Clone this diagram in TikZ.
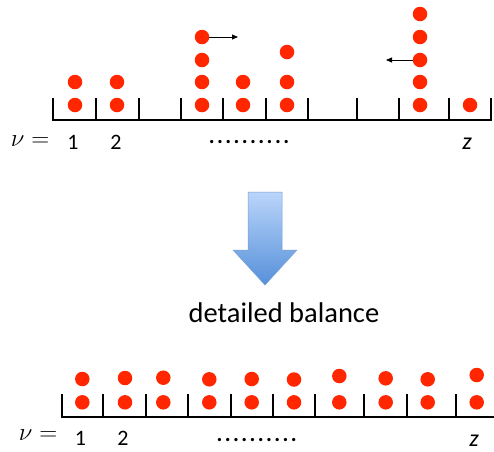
\documentclass[tikz,border=0pt]{standalone}
\usepackage{fontspec}
\setmainfont{Carlito}
\usetikzlibrary{arrows.meta}
\definecolor{dotred}{RGB}{255,38,0}
\definecolor{arrtop}{RGB}{186,213,250}
\definecolor{arrbot}{RGB}{86,144,218}
\definecolor{arredge}{RGB}{120,160,210}
\newcommand{\dotrow}{\bfseries.\kern2.4pt.\kern2.4pt.\kern2.4pt.\kern2.4pt.\kern2.4pt.\kern2.4pt.\kern2.4pt.\kern2.4pt.\kern2.4pt.}
\begin{document}
\begin{tikzpicture}[x=1pt,y=-1pt,
  ball/.style={circle,fill=dotred,inner sep=0pt,minimum size=14.5pt},
  bar/.style={line width=1.8pt},
  lbl/.style={font=\fontsize{22}{26}\selectfont,inner sep=0pt},
  mathlbl/.style={font=\fontsize{24}{28}\selectfont,inner sep=0pt},
  zlbl/.style={font=\fontsize{24}{28}\selectfont\itshape,inner sep=0pt},
  hop/.style={-{Triangle[length=6pt,width=5pt]},line width=0.8pt}]
\useasboundingbox (0,0) rectangle (494,451);

% ---------- top bar ----------
\draw[bar] (53,98) -- (53,120) -- (491,120) -- (491,98);
\foreach \x in {96,139,181,223,266,308,357,399,449}
  \draw[bar] (\x,98) -- (\x,120);

% top balls
\node[ball] (a1) at (75,105) {};
\node[ball] (a2) at (75,82) {};
\node[ball] (b1) at (117,105) {};
\node[ball] (b2) at (117,82) {};
\node[ball] (c1) at (202,105) {};
\node[ball] (c2) at (202,82) {};
\node[ball] (c3) at (202,60) {};
\node[ball] (c4) at (202,37) {};
\node[ball] (d1) at (243,105) {};
\node[ball] (d2) at (243,82) {};
\node[ball] (e1) at (287,105) {};
\node[ball] (e2) at (287,82) {};
\node[ball] (e3) at (287,52) {};
\node[ball] (f1) at (420,105) {};
\node[ball] (f2) at (420,82) {};
\node[ball] (f3) at (420,60) {};
\node[ball] (f4) at (420,37) {};
\node[ball] (f5) at (420,14) {};
\node[ball] (g1) at (470,105) {};

\coordinate (rt) at (238,37);
\coordinate (lt) at (386,60);
\draw[hop] (c4.east) -- (rt);
\draw[hop] (f3.west) -- (lt);

% top labels
\node[mathlbl] (nuA) at (30,141.5) {$\nu =$};
\node[lbl] (oneA) at (73,142) {1};
\node[lbl] (twoA) at (116,142) {2};
\node[lbl] (dotsA) at (249,142.3) {\dotrow};
\node[zlbl] (zA) at (467,143.4) {z};

% ---------- block arrow ----------
\shade[top color=arrtop,bottom color=arrbot,draw=arredge,line width=0.5pt]
  (248,192) -- (282,192) -- (282,250) -- (297,250) -- (265,285)
  -- (233,250) -- (248,250) -- cycle;
\node[font=\fontsize{28.5}{32}\selectfont,inner sep=0pt,anchor=base] (db) at (284,322) {detailed balance};

% ---------- bottom bar ----------
\draw[bar] (61.7,394.3) -- (61.7,417.3) -- (494,417.3);
\foreach \x in {103.3,145.7,188.3,230.7,272.7,315,364.3,406.7,456}
  \draw[bar] (\x,394.3) -- (\x,417.3);

\foreach \x/\y [count=\i] in {82.3/379,125/378,163.3/377.7,209.3/379.3,251.7/379,294/379.5,339.3/376,385.7/378.3,427.7/379.3,476.7/375}{
  \node[ball] (lo\i) at (\x,402.3) {};
  \node[ball] (up\i) at (\x,\y) {};
}

% bottom labels
\node[mathlbl] (nuB) at (38,435) {$\nu =$};
\node[lbl] (oneB) at (80.5,438) {1};
\node[lbl] (twoB) at (123,438) {2};
\node[lbl] (dotsB) at (256.7,440.3) {\dotrow};
\node[zlbl] (zB) at (474,440.5) {z};
\end{tikzpicture}
\end{document}
